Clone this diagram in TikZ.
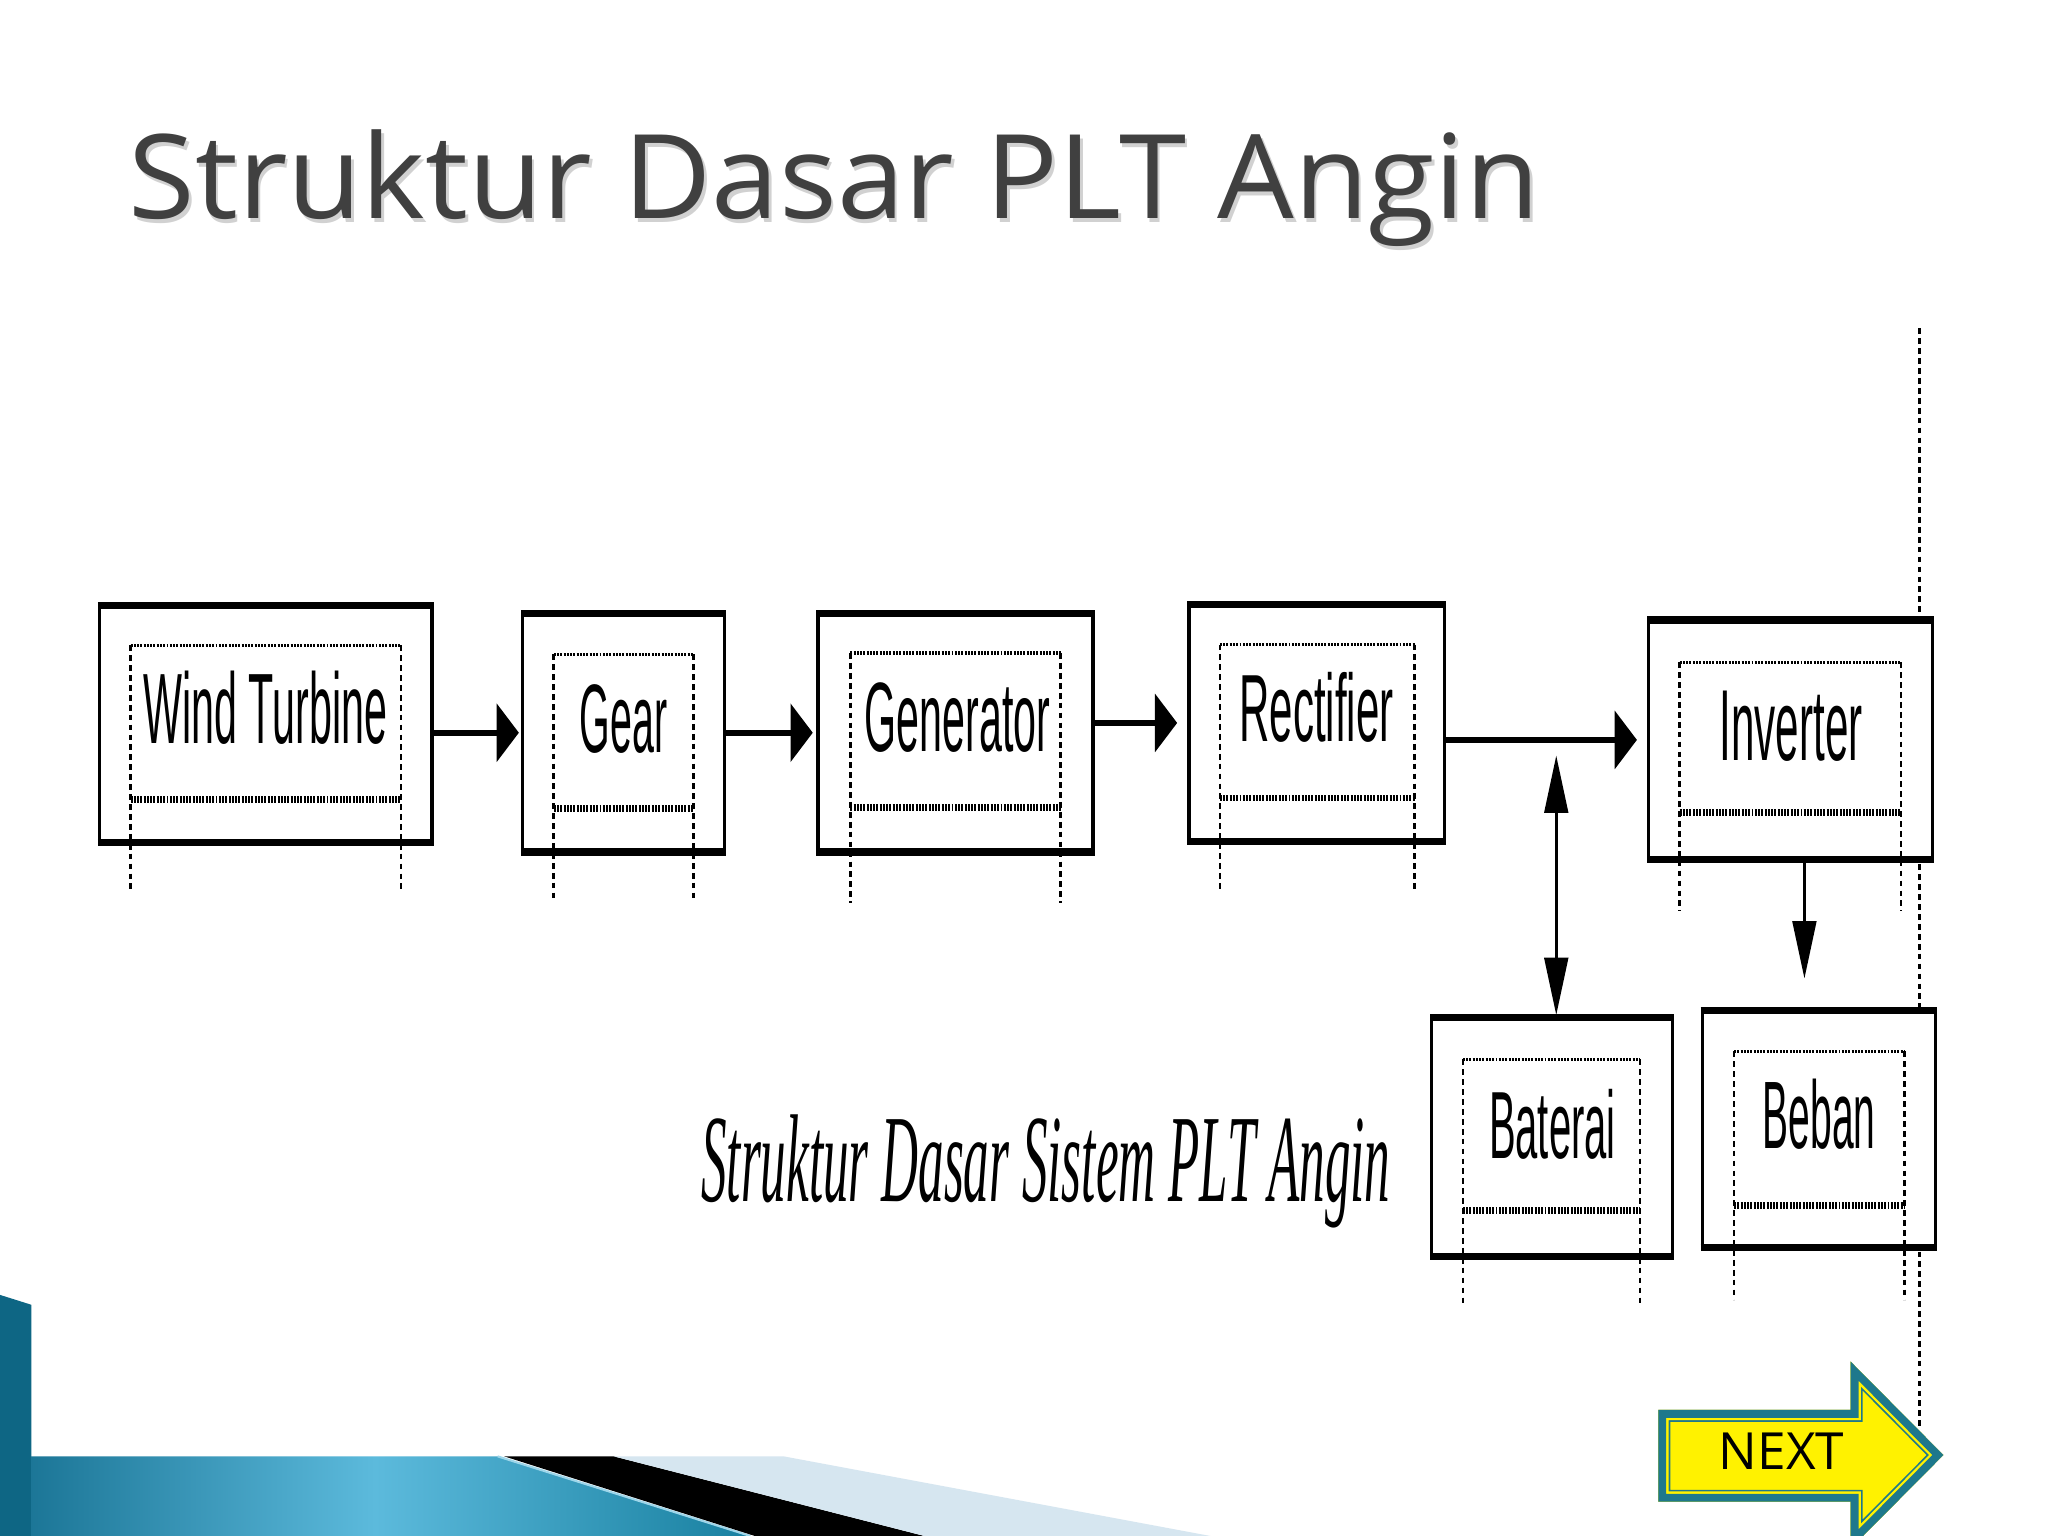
\documentclass[tikz,border=0pt]{standalone}
\usepackage{fontspec}
\usepackage{graphicx}
\usetikzlibrary{arrows.meta}
\newfontfamily\labelfont{Liberation Sans}
\newfontfamily\capfont{Liberation Serif}
\newfontfamily\titlefont{Open Sans}
\definecolor{tealA}{RGB}{30,120,140}
\definecolor{bandDark}{RGB}{22,112,145}
\definecolor{bandLight}{RGB}{92,186,220}
\definecolor{bandRight}{RGB}{24,128,160}
\definecolor{stripC}{RGB}{14,102,132}
\definecolor{paleBlue}{RGB}{214,230,240}
\definecolor{titleGray}{RGB}{64,64,64}
\tikzset{
  blk/.style={draw=black, fill=white, line width=1.25pt, inner sep=0pt, outer sep=0pt, rectangle},
  bar/.style={line width=2.75pt, draw=black},
  dtop/.style={line width=1.2pt, dash pattern=on 0.75pt off 0.5pt},
  dband/.style={line width=2.6pt, dash pattern=on 0.75pt off 0.5pt},
  dside/.style={line width=1pt, dash pattern=on 2.2pt off 1.6pt},
  harrow/.style={line width=2.25pt, -{Triangle[length=8.5pt,width=22pt]}},
  varrow/.style={line width=1.3pt, -{Triangle[length=22pt,width=9pt]}},
  vboth/.style={line width=1.3pt, {Triangle[length=22pt,width=9pt]}-{Triangle[length=22pt,width=9pt]}},
  lbl/.style={anchor=base west, inner sep=0pt, outer sep=0pt},
}
\newcommand{\blockbox}[5]{%
  \node[blk, minimum width={(#4-#2-2.5)*0.5pt}, minimum height={(#5-#3-2.5)*0.5pt}] (#1) at ({(#2+#4)/2},{(#3+#5)/2}) {};
  \draw[bar] (#2,{#3+2.75}) -- (#4,{#3+2.75});
  \draw[bar] (#2,{#5-2.75}) -- (#4,{#5-2.75});
}
\newcommand{\dotframe}[5]{%
  \draw[dtop] (#1,#3) -- (#2,#3);
  \draw[dband] (#1,#4) -- (#2,#4);
  \draw[dside] (#1,#3) -- (#1,#5);
  \draw[dside] (#2,#3) -- (#2,#5);
}
\begin{document}
\begin{tikzpicture}[x=0.5pt,y=-0.5pt]
\useasboundingbox (0,0) rectangle (1568,1176);
\clip (0,0) rectangle (1568,1176);
\fill[white] (0,0) rectangle (1568,1176);

% bottom decoration
\fill[stripC] (0,991.4) -- (24.1,999) -- (24.1,1176) -- (0,1176) -- cycle;
\shade[left color=bandDark, right color=bandRight, middle color=bandLight]
  (0,1115) -- (381,1115) -- (574.5,1176) -- (0,1176) -- cycle;
\fill[stripC] (0,1115) rectangle (24.1,1176);
\draw[line width=0.8pt, color=bandLight!60!white] (381,1115) -- (574.5,1176);
\fill[black] (386,1115) -- (469.8,1115) -- (707.8,1176) -- (578,1176) -- cycle;
\fill[paleBlue] (469.8,1115) -- (599.9,1115) -- (926.8,1176) -- (707.8,1176) -- cycle;

% title
\node[lbl, text=black!18] at (100.6,170) {\resizebox{540.2pt}{34pt}{\titlefont Struktur Dasar PLT Angin}};
\node[lbl, text=titleGray] (title) at (98.6,167) {\resizebox{540.2pt}{34pt}{\titlefont Struktur Dasar PLT Angin}};

% long dashed guide line (behind boxes)
\coordinate (gtop) at (1469.4,251.4);
\coordinate (gbot) at (1469.4,1092.3);
\draw[dside] (gtop) -- (gbot);

% boxes
\blockbox{wt}{75}{461}{332}{648}
\blockbox{gear}{399}{467}{556}{655}
\blockbox{gen}{625}{467}{838}{655}
\blockbox{rect}{909}{460}{1107}{647}
\blockbox{inv}{1261}{472}{1481}{661}
\blockbox{bat}{1095}{776}{1282}{965}
\blockbox{beb}{1302}{771}{1483}{958}

% inner dotted frames
\dotframe{100}{307}{494}{612}{681}
\dotframe{424}{531}{501}{619}{688}
\dotframe{651}{812}{500}{618}{691}
\dotframe{934}{1083}{493.5}{611}{681}
\dotframe{1286}{1455.5}{507}{622}{697.5}
\dotframe{1120}{1255.5}{811}{926.5}{998.6}
\dotframe{1327.6}{1458}{805}{923}{995}

% labels
\node[lbl] (wtl) at (110,569.5) {\resizebox{93.25pt}{27.75pt}{\labelfont Wind Turbine}};
\node[lbl] (gearl) at (444,576) {\resizebox{33.5pt}{26pt}{\labelfont Gear}};
\node[lbl] (genl) at (662,575.4) {\resizebox{71pt}{26.35pt}{\labelfont Generator}};
\node[lbl] (rectl) at (949,568) {\resizebox{59pt}{26.5pt}{\labelfont Rectifier}};
\node[lbl] (invl) at (1316.6,582.2) {\resizebox{54.7pt}{26.6pt}{\labelfont Inverter}};
\node[lbl] (batl) at (1140,887) {\resizebox{48.5pt}{26.5pt}{\labelfont Baterai}};
\node[lbl] (bebl) at (1349.7,879.5) {\resizebox{43.15pt}{26.6pt}{\labelfont Beban}};

% connectors
\draw[harrow, shorten >=1.5pt] (wt.east |- gear.west) -- (gear.west);
\draw[harrow, shorten >=2pt] (gear.east) -- (gen.west);
\draw[harrow, shorten >=4.5pt] (gen.east |- rect.west) -- (rect.west);
\draw[harrow, shorten >=4.5pt] (rect.east |- inv.west) -- (inv.west);
\coordinate (bt) at (1191.5,578.4);
\draw[vboth] (bt) -- (bt |- bat.north);
\coordinate (ib) at ([xshift=5.25pt]inv.south);
\draw[varrow, shorten >=11.5pt] (ib) -- (ib |- beb.north);

% caption
\node[lbl] (cap) at (536.9,920.1) {\resizebox{263.75pt}{33.2pt}{\capfont\itshape Struktur Dasar Sistem PLT Angin}};

% NEXT arrow
\def\nextpath{(1269.7,1079.5) -- (1416.9,1079.5) -- (1416.9,1042.5) -- (1487.9,1114) -- (1416.9,1185.5) -- (1416.9,1149.7) -- (1269.7,1149.7) -- cycle}
\begin{scope}
  \clip \nextpath;
  \fill[yellow] \nextpath;
  \draw[tealA, line width=9.1pt, line join=miter] \nextpath;
  \draw[yellow, line width=7.8pt, line join=miter] \nextpath;
  \draw[tealA, line width=6pt, line join=miter] \nextpath;
\end{scope}
\node[lbl] (next) at (1316,1125) {\resizebox{48pt}{14pt}{\titlefont NEXT}};
\end{tikzpicture}
\end{document}
